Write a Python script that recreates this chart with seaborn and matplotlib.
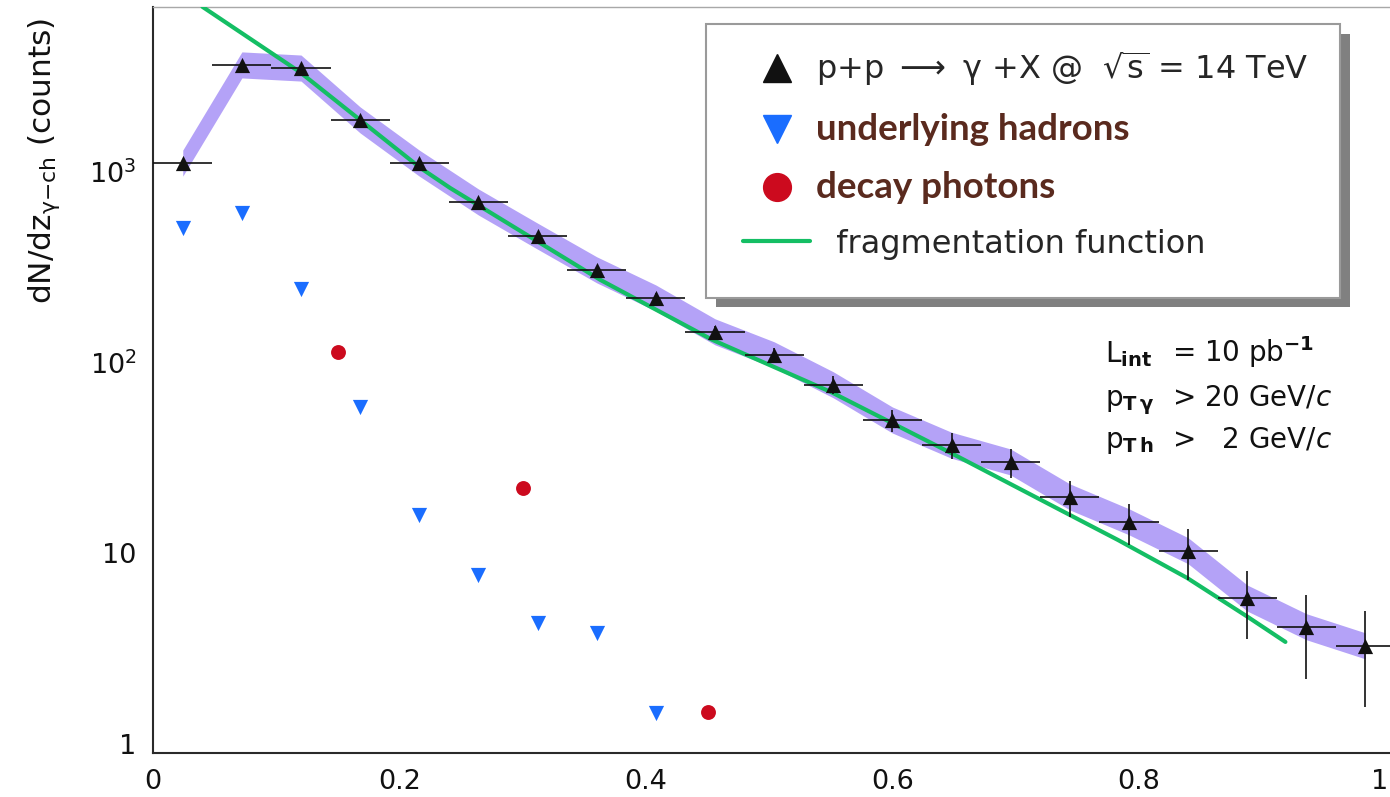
import numpy as np
import pandas as pd
import matplotlib
matplotlib.use("Agg")
import matplotlib.pyplot as plt
import matplotlib.transforms as mtrans
from matplotlib.lines import Line2D
from matplotlib.patches import Rectangle
from matplotlib.ticker import MultipleLocator, LogLocator, NullFormatter, FixedLocator
import seaborn as sns

# ---------------- data ----------------
pp_x = [0.024, 0.072, 0.120, 0.168, 0.216, 0.264, 0.312, 0.360, 0.408, 0.456, 0.504,
        0.552, 0.600, 0.648, 0.696, 0.744, 0.792, 0.840, 0.888, 0.936, 0.984]
pp_y = [1230, 4020, 3870, 2070, 1230, 770, 510, 340, 242, 161, 122,
        85, 55.6, 41, 33.5, 22, 16.3, 11.5, 6.5, 4.6, 3.65]
pp_err = [35, 63, 62, 45, 35, 28, 23, 18, 15.6, 12.7, 11,
          9.2, 7.5, 6.4, 5.8, 4.7, 4.0, 3.4, 2.55, 2.15, 1.9]
pp_xerr = 0.024
sys_factor = 1.17   # half-width of the systematic band (multiplicative)

hadr_x = [0.024, 0.072, 0.120, 0.168, 0.216, 0.264, 0.312, 0.360, 0.408]
hadr_y = [564, 675, 270, 65, 17.7, 8.6, 4.8, 4.27, 1.63]

decay_x = [0.150, 0.300, 0.450]
decay_y = [126, 24.5, 1.65]

frag_x = [0.040, 0.119, 0.217, 0.241, 0.363, 0.454, 0.550, 0.646, 0.744, 0.783, 0.839, 0.888, 0.919]
frag_y = [8100, 3690, 1160, 912, 301, 146, 78, 37.8, 17.7, 13.1, 8.3, 5.2, 3.83]

x_major = [0, 0.2, 0.4, 0.6, 0.8, 1.0]
x_labels = ["0", "0.2", "0.4", "0.6", "0.8", "1"]
y_major = [1, 10, 100, 1000]
y_labels = ["1", "10", r"$10^{2}$", r"$10^{3}$"]

legend_labels = [r"p+p $\longrightarrow$ γ +X @  $\sqrt{s}$ = 14 TeV",
                 "underlying hadrons", "decay photons", "  fragmentation function"]
info_left = [r"L$_{\mathbf{int}}$", r"p$_{\mathbf{T\,\gamma}}$", r"p$_{\mathbf{T\,h}}$"]
info_right = [r"= 10 pb$^{\mathbf{-1}}$", r"> 20 GeV/$\mathit{c}$", r">   2 GeV/$\mathit{c}$"]

# ---------------- style ----------------
BLACK = "#111111"
BLUE = "#1a6dff"
RED = "#cc0a1e"
GREEN = "#14be64"
BAND = "#b4a2f7"
BROWN = "#5a2a1e"

sns.set_theme(style="white")
plt.rcParams["font.family"] = ["DejaVu Sans"]
plt.rcParams["mathtext.fontset"] = "dejavusans"
plt.rcParams["mathtext.default"] = "regular"

W, H = 1390, 797
fig = plt.figure(figsize=(W / 100, H / 100), dpi=100)
fig.patch.set_facecolor("white")
ax = fig.add_axes([153.2 / W, 43.7 / H, 1236.8 / W, 746.6 / H])
ax.set_facecolor("white")

df_pp = pd.DataFrame({"z": pp_x, "n": pp_y, "err": pp_err})
df_pp["lo"] = df_pp["n"] / sys_factor
df_pp["hi"] = df_pp["n"] * sys_factor

# systematic band
ax.fill_between(df_pp["z"], df_pp["lo"], df_pp["hi"], color=BAND, lw=0, zorder=1)
# fragmentation function
sns.lineplot(x=frag_x, y=frag_y, color=GREEN, lw=3.0, sort=False, estimator=None, ax=ax, zorder=3)
# error bars
ax.errorbar(df_pp["z"], df_pp["n"], xerr=pp_xerr, yerr=df_pp["err"], fmt="none",
            ecolor=BLACK, elinewidth=1.2, capsize=0, zorder=4)
# markers
sns.scatterplot(x=pp_x, y=pp_y, marker="^", s=120, color=BLACK, linewidth=0, ax=ax, zorder=5)
sns.scatterplot(x=hadr_x, y=hadr_y, marker="v", s=120, color=BLUE, linewidth=0, ax=ax, zorder=5)
sns.scatterplot(x=decay_x, y=decay_y, marker="o", s=115, color=RED, linewidth=0, ax=ax, zorder=5)

ax.set_yscale("log")
ax.set_xlim(0, 1.0039)
ax.set_ylim(1, 8110)
ax.set_xlabel("")

# ticks
ax.xaxis.set_major_locator(FixedLocator(x_major))
ax.set_xticklabels(x_labels)
ax.xaxis.set_minor_locator(MultipleLocator(0.05))
ax.yaxis.set_major_locator(FixedLocator(y_major))
ax.set_yticklabels(y_labels)
ax.yaxis.set_minor_locator(LogLocator(base=10, subs=np.arange(2, 10)))
ax.yaxis.set_minor_formatter(NullFormatter())
ax.tick_params(axis="both", which="both", direction="in", colors="#222222", width=1.1,
               labelsize=19.5, labelcolor=BLACK)
ax.tick_params(axis="x", which="major", length=16, pad=11)
ax.tick_params(axis="x", which="minor", length=8)
ax.tick_params(axis="y", which="major", length=26, pad=12)
ax.tick_params(axis="y", which="minor", length=13)
for lab in ax.get_yticklabels():
    lab.set_transform(lab.get_transform() + mtrans.ScaledTranslation(0, 6.5 / 72, fig.dpi_scale_trans))
xl = ax.get_xticklabels()
xl[-1].set_transform(xl[-1].get_transform() + mtrans.ScaledTranslation(-4 / 72, 0, fig.dpi_scale_trans))

for s in ["left", "bottom"]:
    ax.spines[s].set_color("#2a2a2a")
    ax.spines[s].set_linewidth(1.5)
ax.spines["top"].set_color("#a8a8a8")
ax.spines["top"].set_linewidth(1.0)
ax.spines["right"].set_visible(False)

ax.set_ylabel(r"dN/dz$_{\gamma\mathrm{-ch}}$ (counts)", fontsize=22.5, color=BLACK, loc="top")
ax.yaxis.set_label_coords(-0.0737, 0.985)

# legend frame + shadow (drawn as patches), legend itself frameless
shadow = Rectangle((716 / W, 1 - 307 / H), (1350 - 716) / W, (307 - 34) / H,
                   transform=fig.transFigure, facecolor="#808080", edgecolor="none",
                   zorder=8, clip_on=False)
ax.add_artist(shadow)
frame = Rectangle((706 / W, 1 - 298 / H), (1340 - 706) / W, (298 - 24) / H,
                  transform=fig.transFigure, facecolor="white", edgecolor="#9a9a9a",
                  linewidth=1.5, zorder=9, clip_on=False)
ax.add_artist(frame)

handles = [Line2D([], [], marker="^", color=BLACK, ls="none", markersize=20),
           Line2D([], [], marker="v", color=BLUE, ls="none", markersize=20),
           Line2D([], [], marker="o", color=RED, ls="none", markersize=20),
           Line2D([], [], color=GREEN, lw=3)]
leg = ax.legend(handles, legend_labels, loc="upper left",
                bbox_to_anchor=(743 / W, 1 - 49 / H), bbox_transform=fig.transFigure,
                frameon=False, prop={"size": 23}, borderpad=0, labelspacing=0.78,
                handlelength=2.1, handletextpad=0.2, borderaxespad=0)
leg.set_zorder(10)
for t in leg.get_texts()[1:3]:
    t.set_fontfamily("Lato")
    t.set_fontweight("bold")
    t.set_fontsize(26.5)
    t.set_color(BROWN)

# info text
baselines = [362, 406, 448]
for l, r, yb in zip(info_left, info_right, baselines):
    fig.text(1105 / W, 1 - yb / H, l, fontsize=20, color=BLACK, va="baseline", ha="left")
    fig.text(1172 / W, 1 - yb / H, r, fontsize=20, color=BLACK, va="baseline", ha="left")

fig.savefig("out.png", dpi=100, facecolor="white")
